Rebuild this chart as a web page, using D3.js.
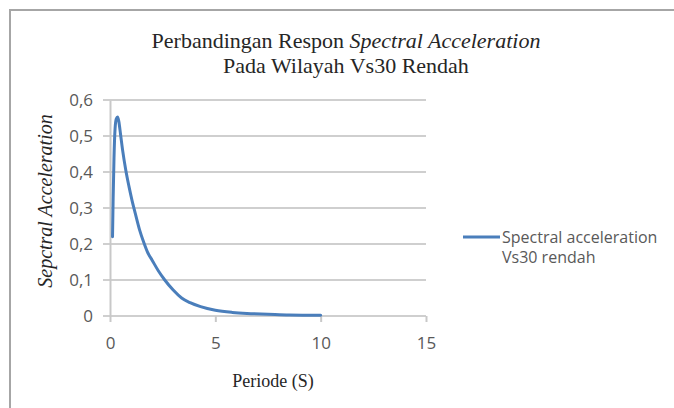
<!DOCTYPE html>
<html lang="en">
<head>
    <meta charset="UTF-8">
    <title>Perbandingan Respon Spectral Acceleration</title>
    <script src="https://d3js.org/d3.v7.min.js"></script>
    <style>
        body {
            margin: 0;
            background-color: #ffffff;
        }
        svg {
            display: block;
        }
        .tick text {
            font-family: "Open Sans", "Liberation Sans", sans-serif;
            font-size: 17px;
            fill: #595959;
        }
    </style>
</head>
<body>
    <svg id="chart" width="674" height="408"></svg>

    <script>
        // Periode (S) and spectral acceleration
        const periods = [0.12, 0.15, 0.19, 0.24, 0.3, 0.36, 0.42, 0.5, 0.6, 0.75, 0.9, 1.05, 1.2, 1.4, 1.6, 1.8, 2.0, 2.3, 2.6, 3.0, 3.4, 3.8, 4.3, 5.0, 5.8, 6.5, 7.5, 8.5, 10.0];
        const accel   = [0.22, 0.33, 0.44, 0.52, 0.548, 0.553, 0.54, 0.505, 0.46, 0.405, 0.36, 0.32, 0.285, 0.24, 0.205, 0.175, 0.155, 0.125, 0.1, 0.072, 0.05, 0.037, 0.026, 0.016, 0.01, 0.007, 0.005, 0.003, 0.002];
        const xTicks = [0, 5, 10, 15];
        const yTicks = [0, 0.1, 0.2, 0.3, 0.4, 0.5, 0.6];
        const seriesName = ["Spectral acceleration", "Vs30 rendah"];

        const data = periods.map((p, i) => ({ t: p, sa: accel[i] }));

        const svg = d3.select("#chart");

        // outer frame of the chart area
        svg.append("rect")
            .attr("x", 10).attr("y", 10)
            .attr("width", 680).attr("height", 420)
            .attr("fill", "none")
            .attr("stroke", "#a6a6a6")
            .attr("stroke-width", 2);

        const x = d3.scaleLinear().domain([0, 15]).range([110, 426]);
        const y = d3.scaleLinear().domain([0, 0.6]).range([316, 100]);

        // gridlines
        svg.append("g")
            .selectAll("line")
            .data(yTicks)
            .enter().append("line")
            .attr("x1", x(0) - 7).attr("x2", x(15))
            .attr("y1", d => y(d)).attr("y2", d => y(d))
            .attr("stroke", "#cfcfcf")
            .attr("stroke-width", 2);

        // y axis
        const yAxis = d3.axisLeft(y).tickValues(yTicks)
            .tickFormat(d => d === 0 ? "0" : d3.format(".1f")(d).replace(".", ","))
            .tickSize(0).tickPadding(17);
        const yG = svg.append("g").attr("transform", `translate(${x(0)},0)`).call(yAxis);
        yG.select(".domain").attr("stroke", "#c8c8c8").attr("stroke-width", 2);

        // x axis
        const xAxis = d3.axisBottom(x).tickValues(xTicks).tickSize(6).tickPadding(15);
        const xG = svg.append("g").attr("transform", `translate(0,${y(0)})`).call(xAxis);
        xG.select(".domain").remove();
        xG.selectAll(".tick line").attr("stroke", "#c8c8c8").attr("stroke-width", 2);

        // the curve
        const line = d3.line()
            .x(d => x(d.t))
            .y(d => y(d.sa))
            .curve(d3.curveMonotoneX);

        svg.append("path")
            .datum(data)
            .attr("d", line)
            .attr("fill", "none")
            .attr("stroke", "#4a7ebb")
            .attr("stroke-width", 3)
            .attr("stroke-linejoin", "round")
            .attr("stroke-linecap", "round");

        // title
        const title = svg.append("text")
            .attr("x", 346).attr("y", 48)
            .attr("text-anchor", "middle")
            .attr("font-family", "Liberation Serif, serif")
            .attr("font-size", 22)
            .attr("fill", "#262626");
        title.append("tspan").text("Perbandingan Respon ");
        title.append("tspan").attr("font-style", "italic").text("Spectral Acceleration");
        svg.append("text")
            .attr("x", 346).attr("y", 73)
            .attr("text-anchor", "middle")
            .attr("font-family", "Liberation Serif, serif")
            .attr("font-size", 22)
            .attr("fill", "#262626")
            .text("Pada Wilayah Vs30 Rendah");

        // axis titles
        svg.append("text")
            .attr("transform", "translate(52,201) rotate(-90)")
            .attr("text-anchor", "middle")
            .attr("font-family", "Liberation Serif, serif")
            .attr("font-style", "italic")
            .attr("font-size", 20)
            .attr("fill", "#262626")
            .text("Sepctral Acceleration");

        svg.append("text")
            .attr("x", 273).attr("y", 387)
            .attr("text-anchor", "middle")
            .attr("font-family", "Liberation Serif, serif")
            .attr("font-size", 18)
            .attr("fill", "#262626")
            .text("Periode (S)");

        // legend
        svg.append("line")
            .attr("x1", 463).attr("x2", 500)
            .attr("y1", 237).attr("y2", 237)
            .attr("stroke", "#4a7ebb")
            .attr("stroke-width", 3);
        svg.append("g")
            .selectAll("text")
            .data(seriesName)
            .enter().append("text")
            .attr("x", 502)
            .attr("y", (d, i) => 243 + i * 20)
            .attr("font-family", "Open Sans, Liberation Sans, sans-serif")
            .attr("font-size", 16)
            .attr("fill", "#595959")
            .text(d => d);
    </script>
</body>
</html>
